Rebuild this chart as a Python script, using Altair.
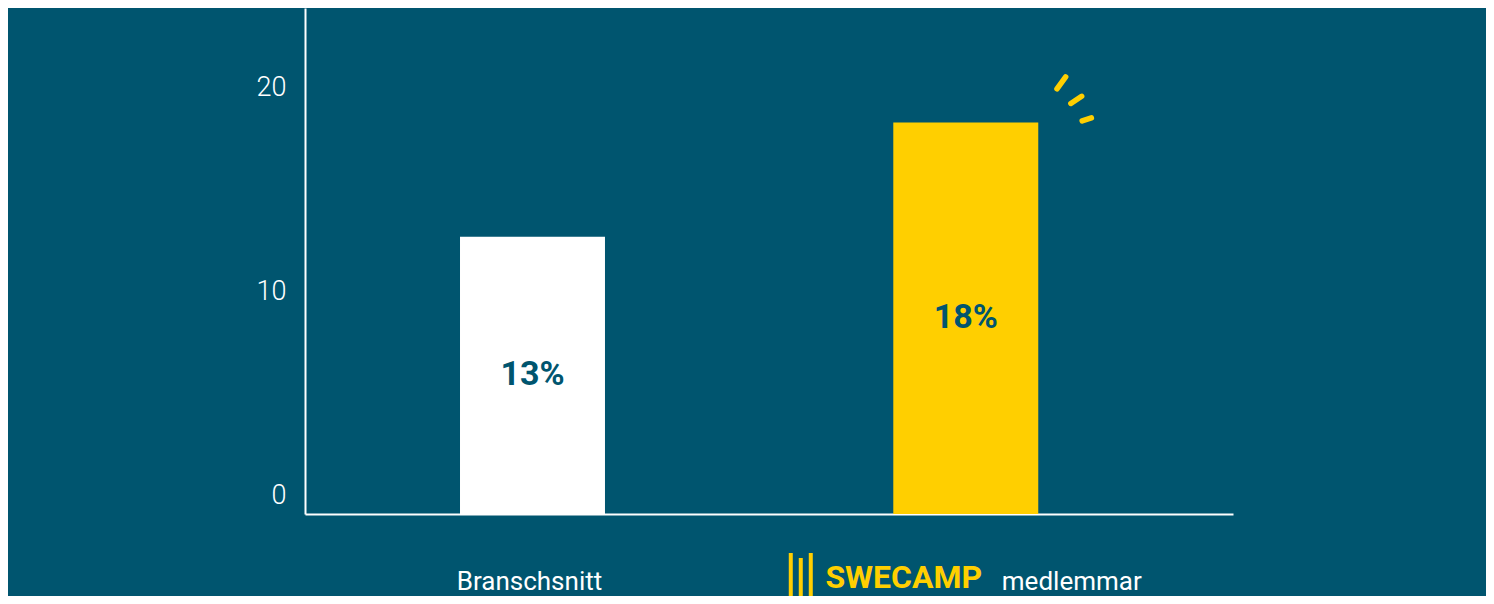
import altair as alt
import pandas as pd

# ---- data ----
categories = ["Branschsnitt", "SWECAMP medlemmar"]
values = [12.7, 18.3]
value_labels = ["13%", "18%"]
bar_colors = ["#FFFFFF", "#FFCF00"]
y_ticks = [0, 10, 20]

BG = "#00556F"
YELLOW = "#FFCF00"
FONT = "Roboto"
Y_MIN, Y_MAX = -0.9, 23.92
CAT2 = categories[1]

df = pd.DataFrame({"cat": categories, "value": values, "label": value_labels})

x_enc = alt.X(
    "cat:N",
    sort=categories,
    scale=alt.Scale(domain=categories, paddingInner=0.6654, paddingOuter=0.4036, align=0.4432),
    axis=alt.Axis(
        title=None,
        labelExpr=f"datum.value == '{CAT2}' ? 'medlemmar' : datum.value",
        labelOffset={"condition": {"test": f"datum.value == '{CAT2}'", "value": 106}, "value": -3},
        labelAngle=0,
        labelLimit=0,
        labelFont=FONT,
        labelFontSize=26,
        labelColor="white",
        labelPadding=54,
        ticks=False,
        tickSize=0,
        domainColor="white",
        domainWidth=2,
        grid=False,
    ),
)

y_scale = alt.Scale(domain=[Y_MIN, Y_MAX], nice=False, zero=False)

bars = (
    alt.Chart(df)
    .mark_bar()
    .encode(
        x=x_enc,
        y=alt.Y(
            "value:Q",
            scale=y_scale,
            axis=alt.Axis(
                title=None,
                values=y_ticks,
                grid=False,
                ticks=False,
                tickSize=0,
                labelPadding=19,
                labelFont=FONT,
                labelFontSize=27,
                labelFontWeight=300,
                labelColor="white",
                domainColor="white",
                domainWidth=2,
            ),
        ),
        y2=alt.datum(Y_MIN),
        color=alt.Color("cat:N", scale=alt.Scale(domain=categories, range=bar_colors), legend=None),
    )
)

labels = (
    alt.Chart(df)
    .transform_calculate(mid=f"(datum.value + ({Y_MIN})) / 2")
    .mark_text(font=FONT, fontWeight="bold", fontSize=34, color=BG, baseline="middle", align="center")
    .encode(x=alt.X("cat:N", sort=categories), y=alt.Y("mid:Q", scale=y_scale), text="label:N")
)

# decorative yellow "sparks" next to the SWECAMP bar
spark_path = "M9.12,-3.37L9.99,-4.57M10.51,-1.91L11.59,-2.63M11.64,-0.17L12.56,-0.47"
sparks = (
    alt.Chart(df)
    .transform_filter(f"datum.cat == '{CAT2}'")
    .mark_point(shape=spark_path, size=400, filled=False, color=YELLOW, strokeWidth=5.5,
                strokeCap="round", opacity=1)
    .encode(x=alt.X("cat:N", sort=categories), y=alt.Y("value:Q", scale=y_scale))
)

# SWECAMP logo in the x-axis label area
logo_bars_path = "M-17.5,3.9L-17.5,8.2M-16.5,4.4L-16.5,8.8M-15.5,3.9L-15.5,8.2"
logo_bars = (
    alt.Chart(df)
    .transform_filter(f"datum.cat == '{CAT2}'")
    .mark_point(shape=logo_bars_path, size=400, filled=False, color=YELLOW, strokeWidth=4,
                strokeCap="butt", opacity=1)
    .encode(x=alt.X("cat:N", sort=categories), y=alt.datum(Y_MIN))
)
logo_text = (
    alt.Chart(df)
    .transform_filter(f"datum.cat == '{CAT2}'")
    .mark_text(text="SWECAMP", font=FONT, fontWeight="bold", fontSize=32, color=YELLOW,
               align="center", baseline="alphabetic", dx=-62, dy=74)
    .encode(x=alt.X("cat:N", sort=categories), y=alt.datum(Y_MIN))
)

chart = (
    alt.layer(bars, labels, sparks, logo_bars, logo_text)
    .properties(
        width=928,
        height=506,
        autosize=alt.AutoSizeParams(type="none"),
        padding={"left": 297, "top": 0, "right": 253, "bottom": 82},
        background=BG,
    )
    .configure_view(stroke=None)
)

chart.save("out.html", embed_options={"renderer": "svg", "actions": False})
